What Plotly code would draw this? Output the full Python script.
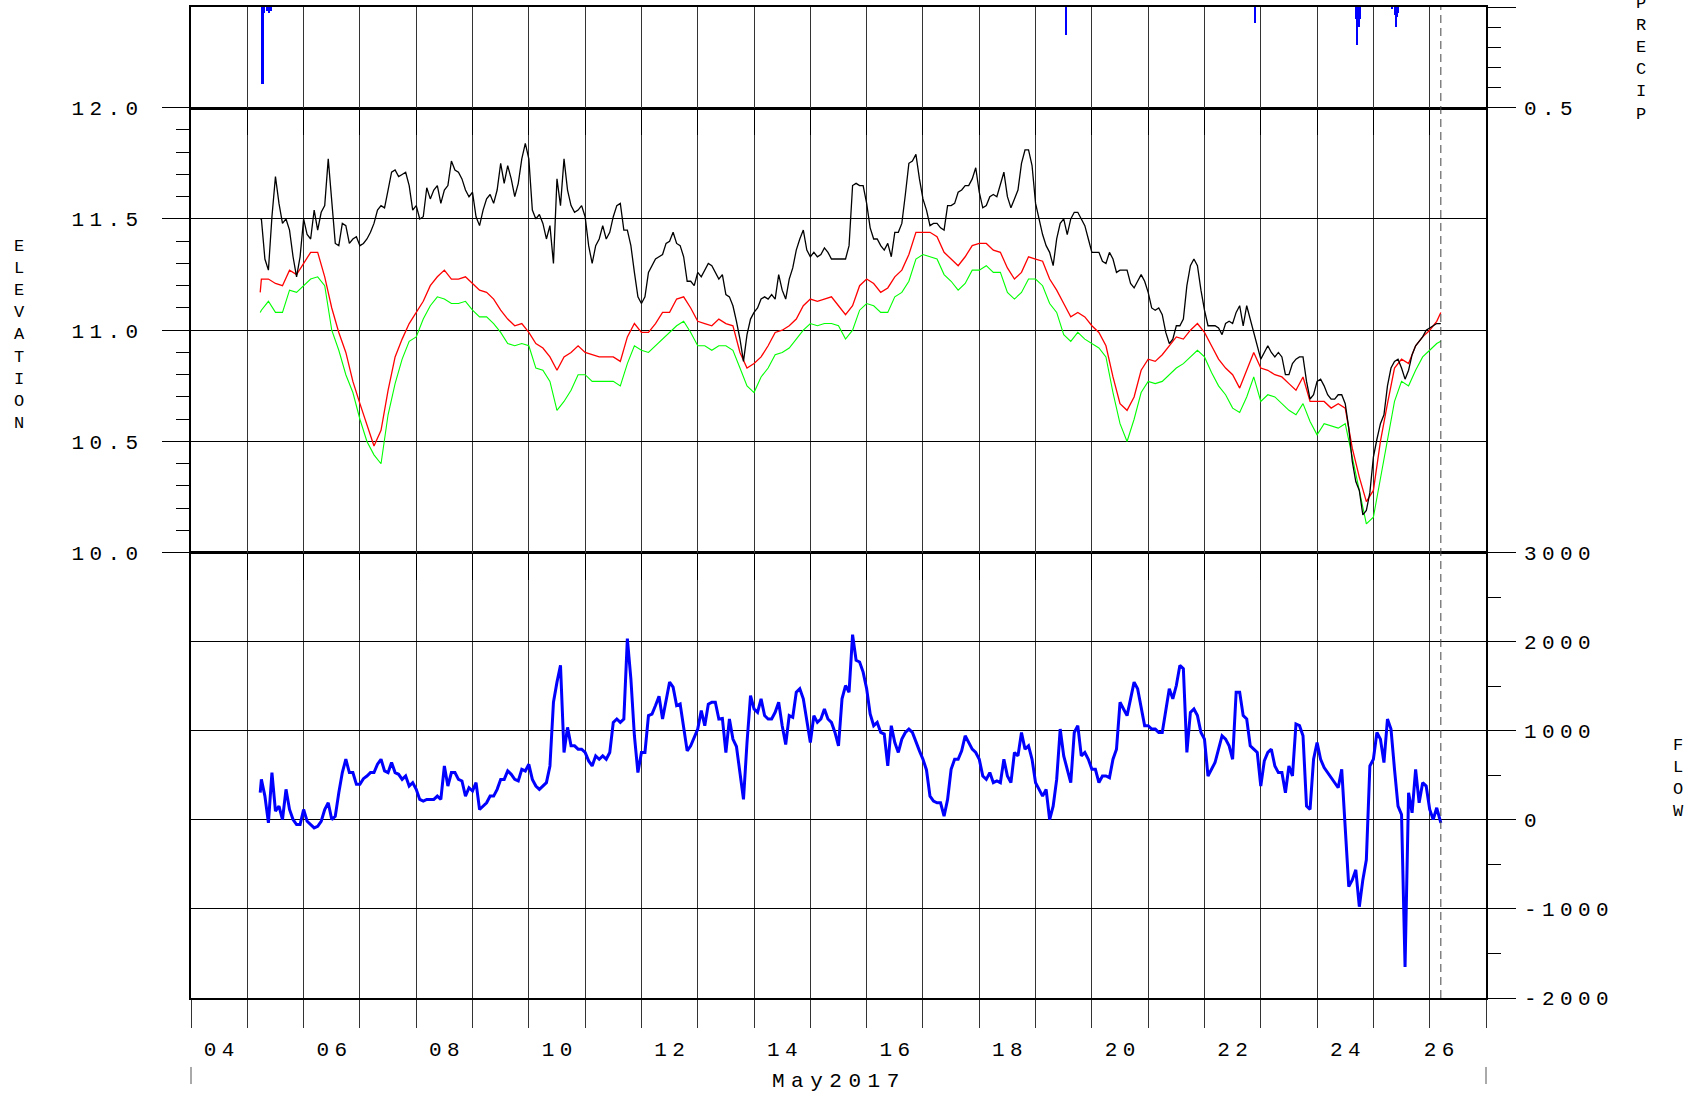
import pandas as pd
import plotly.graph_objects as go

# ---------------- data ----------------
# 3-hourly readings (red / green gauges), plus first and last observation
times = ([pd.Timestamp("2017-05-05 05:30")]
         + list(pd.date_range("2017-05-05 06:00", "2017-05-26 03:00", freq="3h"))
         + [pd.Timestamp("2017-05-26 04:45")])
# 90-minute readings (black gauge and flow), plus first and last observation
times_fine = ([pd.Timestamp("2017-05-05 05:30")]
              + list(pd.date_range("2017-05-05 06:00", "2017-05-26 03:00", freq="90min"))
              + [pd.Timestamp("2017-05-26 04:45")])

elev_black = [11.50,
    11.50, 11.32, 11.27, 11.51, 11.69, 11.57, 11.48, 11.50, 11.45, 11.33, 11.24, 11.33,
    11.50, 11.43, 11.41, 11.54, 11.45, 11.53, 11.56, 11.77, 11.56, 11.39, 11.38, 11.48, 11.47, 11.39, 11.41, 11.42,
    11.38, 11.39, 11.41, 11.44, 11.48, 11.54, 11.56, 11.55, 11.63, 11.71, 11.72, 11.69, 11.70, 11.71, 11.65, 11.54,
    11.56, 11.50, 11.51, 11.64, 11.59, 11.63, 11.65, 11.57, 11.63, 11.65, 11.76, 11.72, 11.71, 11.68, 11.63, 11.60,
    11.62, 11.51, 11.47, 11.54, 11.59, 11.61, 11.57, 11.63, 11.75, 11.66, 11.74, 11.68, 11.60, 11.66, 11.77, 11.84,
    11.77, 11.54, 11.50, 11.52, 11.48, 11.41, 11.47, 11.30, 11.68, 11.56, 11.77, 11.63, 11.56, 11.53, 11.54, 11.56,
    11.51, 11.38, 11.30, 11.38, 11.41, 11.47, 11.41, 11.44, 11.51, 11.56, 11.57, 11.45, 11.45, 11.38, 11.26, 11.15,
    11.12, 11.15, 11.26, 11.29, 11.32, 11.33, 11.34, 11.39, 11.40, 11.44, 11.39, 11.38, 11.33, 11.22, 11.22, 11.20,
    11.26, 11.24, 11.27, 11.30, 11.29, 11.26, 11.23, 11.25, 11.16, 11.15, 11.11, 11.04, 10.96, 10.86, 10.98, 11.05,
    11.08, 11.10, 11.14, 11.15, 11.14, 11.16, 11.14, 11.25, 11.18, 11.14, 11.23, 11.28, 11.36, 11.41, 11.45, 11.36,
    11.33, 11.35, 11.33, 11.34, 11.37, 11.35, 11.32, 11.32, 11.32, 11.32, 11.32, 11.38, 11.65, 11.66, 11.65, 11.65,
    11.57, 11.46, 11.41, 11.41, 11.38, 11.36, 11.39, 11.33, 11.44, 11.44, 11.48, 11.61, 11.75, 11.76, 11.79, 11.68,
    11.59, 11.54, 11.47, 11.48, 11.48, 11.46, 11.45, 11.56, 11.56, 11.57, 11.62, 11.63, 11.65, 11.65, 11.68, 11.73,
    11.62, 11.55, 11.56, 11.60, 11.61, 11.60, 11.65, 11.71, 11.60, 11.55, 11.59, 11.63, 11.75, 11.81, 11.81, 11.74,
    11.57, 11.50, 11.43, 11.38, 11.35, 11.29, 11.41, 11.48, 11.50, 11.43, 11.50, 11.53, 11.53, 11.50, 11.47, 11.41,
    11.35, 11.35, 11.35, 11.31, 11.30, 11.35, 11.32, 11.26, 11.27, 11.27, 11.27, 11.21, 11.19, 11.22, 11.25, 11.22,
    11.17, 11.10, 11.09, 11.10, 11.07, 10.99, 10.94, 10.96, 11.02, 11.02, 11.05, 11.20, 11.29, 11.32, 11.29, 11.18,
    11.09, 11.02, 11.02, 11.02, 11.01, 10.98, 11.03, 11.04, 11.03, 11.08, 11.11, 11.02, 11.11, 11.05, 10.99, 10.94,
    10.87, 10.90, 10.93, 10.90, 10.88, 10.90, 10.88, 10.80, 10.80, 10.85, 10.87, 10.88, 10.88, 10.77, 10.69, 10.71,
    10.77, 10.78, 10.75, 10.71, 10.69, 10.69, 10.71, 10.71, 10.67, 10.56, 10.41, 10.32, 10.28, 10.17, 10.19, 10.27,
    10.43, 10.51, 10.58, 10.62, 10.75, 10.83, 10.86, 10.87, 10.83, 10.78, 10.82, 10.89, 10.93, 10.95, 10.97, 11.00,
    11.01, 11.02, 11.03,
    11.03]

elev_red = [11.17,
    11.23, 11.23, 11.21, 11.20, 11.27, 11.25,
    11.30, 11.35, 11.35, 11.24, 11.10, 10.99, 10.90, 10.77,
    10.67, 10.57, 10.48, 10.55, 10.73, 10.88, 10.96, 11.03,
    11.08, 11.13, 11.20, 11.24, 11.27, 11.23, 11.23, 11.24,
    11.21, 11.18, 11.17, 11.14, 11.09, 11.05, 11.02, 11.03,
    10.99, 10.94, 10.92, 10.88, 10.82, 10.88, 10.90, 10.93,
    10.90, 10.89, 10.88, 10.88, 10.88, 10.86, 10.97, 11.03,
    10.99, 10.99, 11.03, 11.08, 11.08, 11.14, 11.15, 11.10,
    11.04, 11.03, 11.02, 11.05, 11.03, 11.02, 10.90, 10.83,
    10.85, 10.88, 10.93, 10.99, 11.00, 11.02, 11.05, 11.11,
    11.14, 11.13, 11.14, 11.15, 11.11, 11.07, 11.11, 11.20,
    11.23, 11.21, 11.17, 11.19, 11.24, 11.27, 11.34, 11.44,
    11.44, 11.44, 11.42, 11.35, 11.32, 11.29, 11.33, 11.38,
    11.39, 11.39, 11.36, 11.35, 11.28, 11.23, 11.26, 11.33,
    11.32, 11.31, 11.23, 11.18, 11.12, 11.06, 11.08, 11.06,
    11.02, 10.99, 10.93, 10.79, 10.67, 10.64, 10.70, 10.82,
    10.87, 10.86, 10.89, 10.93, 10.97, 10.96, 11.00, 11.03,
    10.99, 10.93, 10.87, 10.83, 10.80, 10.74, 10.82, 10.90,
    10.83, 10.82, 10.80, 10.79, 10.76, 10.73, 10.79, 10.68,
    10.68, 10.68, 10.65, 10.67, 10.65, 10.47, 10.34, 10.23,
    10.28, 10.50, 10.67, 10.83, 10.87, 10.85, 10.93, 10.97,
    11.00, 11.04,
    11.08]

elev_green = [11.08,
    11.09, 11.13, 11.08, 11.08, 11.18, 11.17,
    11.20, 11.23, 11.24, 11.20, 11.00, 10.91, 10.80, 10.72,
    10.60, 10.50, 10.44, 10.40, 10.62, 10.76, 10.87, 10.95,
    10.97, 11.05, 11.11, 11.15, 11.14, 11.12, 11.12, 11.13,
    11.09, 11.06, 11.06, 11.03, 10.99, 10.94, 10.93, 10.94,
    10.93, 10.83, 10.82, 10.77, 10.64, 10.68, 10.73, 10.80,
    10.80, 10.77, 10.77, 10.77, 10.77, 10.75, 10.85, 10.93,
    10.91, 10.90, 10.93, 10.96, 10.99, 11.02, 11.04, 10.99,
    10.93, 10.93, 10.91, 10.93, 10.93, 10.91, 10.83, 10.75,
    10.72, 10.79, 10.83, 10.89, 10.90, 10.92, 10.96, 11.00,
    11.03, 11.02, 11.03, 11.03, 11.02, 10.96, 11.00, 11.09,
    11.12, 11.11, 11.08, 11.08, 11.15, 11.17, 11.22, 11.32,
    11.34, 11.33, 11.32, 11.25, 11.22, 11.18, 11.21, 11.27,
    11.27, 11.29, 11.26, 11.26, 11.17, 11.14, 11.17, 11.23,
    11.23, 11.20, 11.12, 11.08, 10.98, 10.95, 10.99, 10.96,
    10.94, 10.92, 10.88, 10.72, 10.58, 10.50, 10.60, 10.72,
    10.77, 10.76, 10.77, 10.80, 10.83, 10.85, 10.88, 10.91,
    10.88, 10.81, 10.75, 10.71, 10.65, 10.63, 10.70, 10.79,
    10.68, 10.71, 10.70, 10.67, 10.64, 10.62, 10.67, 10.59,
    10.53, 10.58, 10.57, 10.56, 10.58, 10.43, 10.29, 10.13,
    10.16, 10.33, 10.50, 10.68, 10.77, 10.75, 10.82, 10.88,
    10.91, 10.94,
    10.95]

flow = [305,
    455, 267, -34, 531, 98, 154, 4, 343, 117, 4, -53, -53,
    117, -15, -53, -90, -72, -15, 117, 192, 4, 41, 305, 531, 681, 531, 531, 399,
    399, 463, 493, 531, 531, 625, 681, 550, 531, 644, 531, 512, 455, 493, 380, 418,
    343, 230, 211, 230, 230, 230, 267, 230, 606, 380, 531, 531, 455, 437, 267, 361,
    324, 418, 117, 154, 192, 267, 267, 343, 455, 455, 550, 512, 455, 437, 568, 550,
    625, 455, 380, 343, 380, 418, 606, 1321, 1547, 1735, 757, 1039, 832, 832, 794, 794,
    757, 662, 606, 719, 681, 719, 681, 757, 1095, 1133, 1095, 1133, 2036, 1585, 945, 531,
    757, 757, 1171, 1189, 1284, 1389, 1133, 1359, 1547, 1491, 1284, 1302, 1020, 775, 832, 937,
    1020, 1227, 1058, 1299, 1321, 1321, 1133, 1140, 757, 1133, 907, 824, 531, 230, 869, 1396,
    1246, 1208, 1359, 1171, 1133, 1133, 1208, 1321, 1058, 847, 1171, 1152, 1434, 1472, 1359, 1133,
    869, 1171, 1095, 1133, 1246, 1133, 1095, 982, 832, 1359, 1509, 1434, 2080, 1792, 1773, 1660,
    1472, 1189, 1058, 1095, 982, 964, 606, 1058, 869, 757, 907, 982, 1020, 982, 869, 775,
    681, 561, 267, 211, 192, 192, 41, 230, 568, 681, 681, 775, 945, 869, 794, 757,
    681, 493, 455, 531, 418, 437, 418, 681, 493, 418, 757, 719, 982, 794, 832, 681,
    418, 343, 267, 343, 4, 154, 455, 1020, 719, 568, 418, 982, 1058, 719, 757, 681,
    568, 568, 418, 493, 493, 474, 681, 794, 1321, 1246, 1171, 1359, 1547, 1472, 1284, 1058,
    1058, 1020, 1020, 982, 982, 1208, 1472, 1359, 1509, 1735, 1698, 757, 1208, 1246, 1171, 982,
    907, 493, 568, 644, 794, 945, 907, 832, 681, 1434, 1434, 1171, 1133, 832, 794, 757,
    380, 662, 757, 794, 606, 531, 531, 305, 606, 493, 1077, 1058, 945, 154, 117, 681,
    869, 681, 587, 531, 474, 418, 361, 568, -72, -749, -674, -561, -975, -674, -448, 606,
    681, 982, 907, 644, 1133, 1020, 568, 154, 60, -1652, 305, 79, 568, 192, 418, 380,
    117, 4, 136,
    -34]

precip_times = ["2017-05-05 06:35", "2017-05-05 07:15", "2017-05-05 08:30",
                "2017-05-05 09:30", "2017-05-05 10:20", "2017-05-19 13:00",
                "2017-05-22 21:50", "2017-05-24 16:50", "2017-05-24 17:05",
                "2017-05-24 17:30", "2017-05-24 18:00", "2017-05-24 18:30",
                "2017-05-25 08:00", "2017-05-25 09:15", "2017-05-25 09:40",
                "2017-05-25 10:10", "2017-05-25 10:40"]
precip_values = [0.38, 0.03, 0.02, 0.03, 0.02, 0.14, 0.08, 0.06, 0.19,
                 0.08, 0.10, 0.06, 0.01, 0.04, 0.10, 0.05, 0.03]

x_tick_dates = ["2017-05-04 12:00", "2017-05-06 12:00", "2017-05-08 12:00",
                "2017-05-10 12:00", "2017-05-12 12:00", "2017-05-14 12:00",
                "2017-05-16 12:00", "2017-05-18 12:00", "2017-05-20 12:00",
                "2017-05-22 12:00", "2017-05-24 12:00", "2017-05-26 04:00"]
x_tick_text = ["04", "06", "08", "10", "12", "14", "16", "18", "20", "22", "24", "26"]
elev_ticks = [10.0, 10.5, 11.0, 11.5, 12.0]
elev_tick_text = ["10.0", "10.5", "11.0", "11.5", "12.0"]
flow_ticks = [-2000, -1000, 0, 1000, 2000, 3000]
flow_tick_text = ["-2000", "-1000", "0", "1000", "2000", "3000"]
precip_ticks = [0.0, 0.5]
precip_tick_text = ["0.0", "0.5"]
x_start, x_end = "2017-05-04", "2017-05-27"
now_marker = "2017-05-26 04:45"

assert len(times) == len(elev_red) == len(elev_green)
assert len(times_fine) == len(elev_black) == len(flow)

# ---------------- styling ----------------
FONT = "Liberation Mono, Courier New, monospace"
DAY_MS = 86400000
LS = 5.4


def sp(s, ls=LS):
    if len(s) < 2:
        return s
    return f'<span style="letter-spacing:{ls}px">{s[:-1]}</span>{s[-1]}'


tickfont = dict(family=FONT, size=21, color="black")

fig = go.Figure()
fig.add_trace(go.Scatter(x=times_fine, y=flow, mode="lines",
                         line=dict(color="#0000ff", width=3),
                         xaxis="x", yaxis="y"))
fig.add_trace(go.Scatter(x=times, y=elev_green, mode="lines",
                         line=dict(color="#00ff00", width=1.1),
                         xaxis="x2", yaxis="y2"))
fig.add_trace(go.Scatter(x=times, y=elev_red, mode="lines",
                         line=dict(color="#ff0000", width=1.3),
                         xaxis="x2", yaxis="y2"))
fig.add_trace(go.Scatter(x=times_fine, y=elev_black, mode="lines",
                         line=dict(color="#000000", width=1.3),
                         xaxis="x2", yaxis="y2"))
fig.add_trace(go.Bar(x=precip_times, y=precip_values,
                     width=[2.4e6] * len(precip_values),
                     marker=dict(color="#0000ff", line=dict(width=0)),
                     xaxis="x3", yaxis="y3"))
fig.add_trace(go.Scatter(x=[], y=[], xaxis="x4", yaxis="y", hoverinfo="skip"))

GRID_V = "#333333"


def frame(width):
    return dict(showline=True, linecolor="black", linewidth=width, mirror=True,
                zeroline=False)


fig.update_layout(
    template="none",
    width=1694, height=1093,
    margin=dict(l=191, r=208, t=7, b=95, pad=0),
    paper_bgcolor="white", plot_bgcolor="white",
    showlegend=False,
    bargap=0,
    font=dict(family=FONT, size=17, color="black"),
    xaxis=dict(anchor="y", domain=[0, 1], type="date", range=[x_start, x_end],
               tickmode="array", tickvals=x_tick_dates,
               ticktext=[sp(t) for t in x_tick_text],
               ticks="", showgrid=False, tickfont=tickfont,
               ticklabelstandoff=31,
               minor=dict(tickmode="linear", tick0=x_start, dtick=DAY_MS,
                          ticks="outside", ticklen=28, tickcolor=GRID_V,
                          tickwidth=1, showgrid=True, gridcolor=GRID_V,
                          gridwidth=1),
               automargin=False, **frame(1.6)),
    xaxis2=dict(anchor="y2", domain=[0, 1], type="date", range=[x_start, x_end],
                side="top", tickmode="linear", tick0=x_start, dtick=DAY_MS,
                ticks="inside", ticklen=27, tickcolor="black", tickwidth=1,
                showticklabels=False, showgrid=True, gridcolor=GRID_V,
                gridwidth=1, automargin=False, **frame(1)),
    xaxis3=dict(anchor="y3", domain=[0, 1], type="date", range=[x_start, x_end],
                tickmode="linear", tick0=x_start, dtick=DAY_MS, ticks="",
                showticklabels=False, showgrid=True, gridcolor=GRID_V,
                gridwidth=1, automargin=False, **frame(1.6)),
    xaxis4=dict(anchor="y", overlaying="x", type="date", range=[x_start, x_end],
                side="top", tickmode="linear", tick0=x_start, dtick=DAY_MS,
                ticks="inside", ticklen=27, tickcolor="black", tickwidth=1,
                showticklabels=False, showgrid=False, showline=False,
                zeroline=False, automargin=False),
    yaxis=dict(anchor="x", domain=[0, 0.4493], side="right",
               range=[-2000, 3000], tickmode="array", tickvals=flow_ticks,
               ticktext=[sp(t) for t in flow_tick_text],
               ticks="outside", ticklen=28, tickcolor="black", tickwidth=1,
               minor=dict(tickmode="linear", tick0=-2000, dtick=500,
                          ticks="outside", ticklen=13, tickcolor="black",
                          tickwidth=1, showgrid=False),
               showgrid=True, gridcolor="black", gridwidth=1,
               tickfont=tickfont, ticklabelstandoff=4, automargin=False,
               **frame(1.5)),
    yaxis2=dict(anchor="x2", domain=[0.4493, 0.8984], side="left",
                range=[10, 12], tickmode="array", tickvals=elev_ticks,
                ticktext=[sp(t) for t in elev_tick_text],
                ticks="outside", ticklen=27, tickcolor="black", tickwidth=1,
                minor=dict(tickmode="linear", tick0=10, dtick=0.1,
                           ticks="outside", ticklen=13, tickcolor="black",
                           tickwidth=1, showgrid=False),
                showgrid=True, gridcolor="black", gridwidth=1,
                tickfont=tickfont, ticklabelstandoff=20, automargin=False,
                **frame(1.5)),
    yaxis3=dict(anchor="x3", domain=[0.8984, 1], side="right",
                range=[0.5, 0], tickmode="array", tickvals=precip_ticks,
                ticktext=[sp(t) for t in precip_tick_text],
                ticks="outside", ticklen=28, tickcolor="black", tickwidth=1,
                minor=dict(tickmode="linear", tick0=0, dtick=0.1,
                           ticks="outside", ticklen=13, tickcolor="black",
                           tickwidth=1, showgrid=False),
                showgrid=False, tickfont=tickfont, ticklabelstandoff=4,
                automargin=False, **frame(1.5)),
)

ann_font = dict(family=FONT, size=17, color="black")
fig.add_annotation(text="<br>".join("ELEVATION"), x=-0.1328, y=0.6694,
                   xref="paper", yref="paper", showarrow=False,
                   xanchor="center", yanchor="middle", font=ann_font)
fig.add_annotation(text="<br>".join("PRECIP"), x=1.1197, y=0.9473,
                   xref="paper", yref="paper", showarrow=False,
                   xanchor="center", yanchor="middle", font=ann_font)
fig.add_annotation(text="<br>".join("FLOW"), x=1.149, y=0.221,
                   xref="paper", yref="paper", showarrow=False,
                   xanchor="center", yanchor="middle", font=ann_font)
fig.add_annotation(text=sp("May2017", 6.5), x=0.4978, y=-0.0847,
                   xref="paper", yref="paper", showarrow=False,
                   xanchor="center", yanchor="middle",
                   font=dict(family=FONT, size=21, color="black"))

# month bracket marks and current-time marker
for xp in (0, 1):
    fig.add_shape(type="line", xref="paper", yref="paper", x0=xp, x1=xp,
                  y0=-0.0696, y1=-0.0868, line=dict(color="#555555", width=1))
fig.add_shape(type="line", xref="x", yref="paper", x0=now_marker, x1=now_marker,
              y0=0, y1=1, line=dict(color="#444444", width=1, dash="8px,5px"))

# page without default body margin so the figure fills the window exactly
fig.write_html("out.html",
               config={"displayModeBar": False},
               post_script="document.body.style.margin='0';"
                           "document.body.style.overflow='hidden';")
